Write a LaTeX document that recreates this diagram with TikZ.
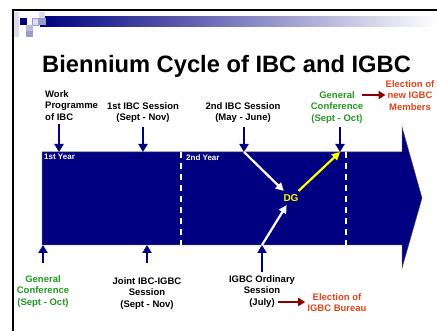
\documentclass[tikz,border=0pt]{standalone}
\usepackage{fontspec}
\setmainfont{Liberation Sans}
\usetikzlibrary{arrows.meta, positioning, calc}

\begin{document}
\begin{tikzpicture}[
    x=1pt, y=-1pt,
    every node/.style={font=\bfseries},
]

% ---------------------------------------------------------------- colours
\definecolor{navy}{HTML}{000080}       % the timeline and its markers
\definecolor{confgreen}{HTML}{229922}  % General Conference
\definecolor{electred}{HTML}{E0441A}   % elections
\definecolor{darkred}{HTML}{880000}    % arrows to the elections
\definecolor{dgyellow}{HTML}{FFFF00}
\definecolor{lavlight}{HTML}{DCDCEE}
\definecolor{lavmid}{HTML}{9C9CCC}

\tikzset{
    lbl/.style={font=\fontsize{9.5}{11.3}\selectfont\bfseries, align=center,
                inner sep=0pt},
    yearlbl/.style={font=\fontsize{8}{9}\selectfont\bfseries, text=white,
                    anchor=north west, inner sep=0pt},
    tickarrow/.style={-{Triangle[length=8pt, width=9pt]}, line width=2.8pt, navy},
    electarrow/.style={-{Triangle[length=7pt, width=8pt]}, line width=2.5pt, darkred},
    dgarrow/.style={-{Triangle[length=8pt, width=8pt]}, line width=2.2pt},
    yeardash/.style={white, line width=1.6pt, dash pattern=on 6pt off 5pt},
}

% ================================================================
% GEOMETRY (pixels, y down)
%   timeline body     x = 42 .. 402,  y = 152 .. 245
%   arrow head        x = 402 .. 422, y = 127 .. 268
%   year dividers     x = 181, 346
% ================================================================
\useasboundingbox (0,0) rectangle (437,331);
\fill[white] (0,0) rectangle (437,331);

% ---------------------------------------------------------------- slide frame
\shade[left color=navy, right color=white] (40,17) rectangle (437,27);
\fill[lavlight] (13,12) rectangle (19,37);
\fill[navy] (20,18) rectangle (27,25);
\fill[lavlight] (39,12) rectangle (45,18);
\fill[lavmid] (39,18) rectangle (46,25);
\filldraw[fill=lavlight, draw=lavmid] (32,18) rectangle (38,25);
\fill[lavmid!70] (26,25) rectangle (33,31);
\fill[lavmid] (26,31) rectangle (33,37);
\draw[line width=2pt] (13,331) -- (13,10) -- (437,10);

% ---------------------------------------------------------------- title
\node[font=\fontsize{23.7}{28}\selectfont\bfseries, anchor=base west, inner sep=0pt]
    (title) at (42,73) {Biennium Cycle of IBC and IGBC};

% ---------------------------------------------------------------- the timeline
\draw[fill=navy, draw=black!70, line width=0.5pt]
    (42,152) -- (402,152) -- (402,127) -- (422,198) -- (402,268)
    -- (402,245) -- (42,245) -- cycle;
\draw[yeardash] (181,152) -- (181,245);
\draw[yeardash] (346,152) -- (346,245);
\node[yearlbl] (year1) at (44,154) {1st Year};
\node[yearlbl] (year2) at (186,155) {2nd Year};

% points on the timeline edges
\coordinate (w1) at (59,152);
\coordinate (i1) at (143,152);
\coordinate (i2) at (244,152);
\coordinate (g2) at (340,152);
\coordinate (g1) at (43,245);
\coordinate (j1) at (147,245);
\coordinate (o1) at (262,245);

% ---------------------------------------------------------------- above
\node[lbl, align=left, anchor=north west] (work) at (45,90.5)
    {Work\\Programme\\of IBC};
\node[lbl, anchor=north] (ibcone) at (143,102.5)
    {1st IBC Session\\(Sept - Nov)};
\node[lbl, anchor=north] (ibctwo) at (243,102.5)
    {2nd IBC Session\\(May - June)};
\node[lbl, anchor=north, text=confgreen] (conftop) at (337,91.5)
    {General\\Conference\\(Sept - Oct)};
\node[lbl, anchor=north, text=electred] (members) at (410,80.5)
    {Election of\\new IGBC\\Members};

\draw[tickarrow] ($(work.south -| w1)+(0,4)$) -- (w1);
\draw[tickarrow] ($(ibcone.south -| i1)+(0,4)$) -- (i1);
\draw[tickarrow] ($(ibctwo.south -| i2)+(0,4)$) -- (i2);
\draw[tickarrow] ($(conftop.south -| g2)+(0,4)$) -- (g2);
\draw[electarrow] (362,95) coordinate (m0) -- (m0 -| members.west);

% ---------------------------------------------------------------- below
\node[lbl, anchor=north, text=confgreen] (confbot) at (43,275.5)
    {General\\Conference\\(Sept - Oct)};
\node[lbl, anchor=north] (joint) at (147,277.5)
    {Joint IBC-IGBC\\Session\\(Sept - Nov)};
\node[lbl, anchor=north] (ordinary) at (262,275.5)
    {IGBC Ordinary\\Session\\(July)};
\node[lbl, anchor=north, text=electred] (bureau) at (337,293.5)
    {Election of\\IGBC Bureau};

\draw[tickarrow] ($(confbot.north -| g1)+(0,-12)$) -- (g1);
\draw[tickarrow] ($(joint.north -| j1)+(0,-14)$) -- (j1);
\draw[tickarrow] ($(ordinary.north -| o1)+(0,-3)$) -- (o1);
\draw[electarrow] (278,302) coordinate (b0) -- ($(b0 -| bureau.west)+(-2,0)$);

% ---------------------------------------------------------------- the DG
\node[font=\fontsize{10}{12}\selectfont\bfseries, text=dgyellow] (dg) at (291,198) {DG};
\draw[dgarrow, white] (i2) -- (dg);
\draw[dgarrow, white] (o1) -- (dg);
\draw[dgarrow, dgyellow] (dg) -- (g2);

\end{tikzpicture}
\end{document}
